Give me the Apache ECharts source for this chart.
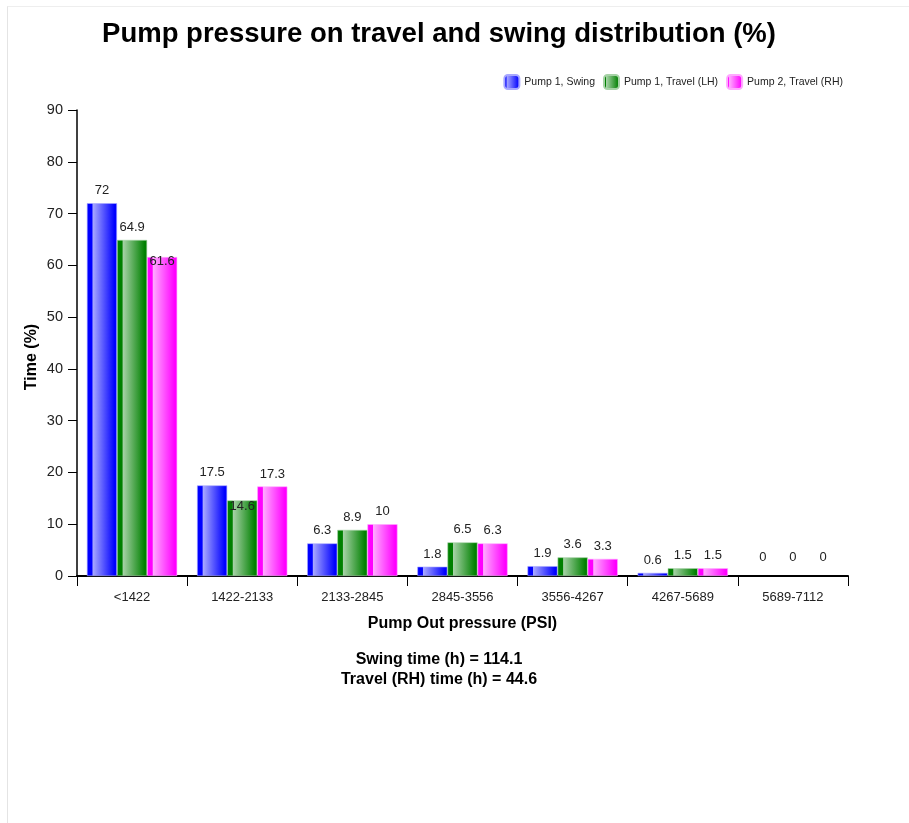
<!DOCTYPE html>
<html>
<head>
<meta charset="utf-8">
<script src="https://cdn.jsdelivr.net/npm/echarts@6/dist/echarts.min.js"></script>
<style>
html,body{margin:0;padding:0;background:#fff;}
#frame{position:absolute;left:7px;top:6px;width:920px;height:840px;border-left:1px solid #e4e4e4;border-top:1px solid #eeeeee;}
#chart{position:absolute;left:0;top:0;width:909px;height:823px;}
</style>
</head>
<body>
<div id="frame"></div>
<div id="chart"></div>
<script>
const categories = ['<1422','1422-2133','2133-2845','2845-3556','3556-4267','4267-5689','5689-7112'];
const seriesNames = ['Pump 1, Swing','Pump 1, Travel (LH)','Pump 2, Travel (RH)'];
const swing   = [72, 17.5, 6.3, 1.8, 1.9, 0.6, 0];
const travelLH = [64.9, 14.6, 8.9, 6.5, 3.6, 1.5, 0];
const travelRH = [61.6, 17.3, 10, 6.3, 3.3, 1.5, 0];
const yTicks = [0,10,20,30,40,50,60,70,80,90];
const swingTime = 114.1;
const travelRHTime = 44.6;
const yAxisTitle = 'Time (%)';

const baseColors = ['#0000ff','#008000','#ff00ff'];
const lightColors = ['#a8a8ff','#a6d2a6','#ffaaff'];
function grad(i){
  return new echarts.graphic.LinearGradient(0,0,1,0,[
    {offset:0,color:baseColors[i]},
    {offset:0.17,color:baseColors[i]},
    {offset:0.2,color:lightColors[i]},
    {offset:0.92,color:baseColors[i]},
    {offset:1,color:baseColors[i]}
  ]);
}
// label nudges for overlapping labels (series index -> category index -> y offset)
const labelNudge = {1:{1:19}, 2:{0:17}};
const allData = [swing, travelLH, travelRH];
const series = allData.map((arr,si)=>({
  name: seriesNames[si],
  type:'bar',
  barGap:'0%',
  barCategoryGap:'18%',
  itemStyle:{color:grad(si), borderColor:lightColors[si], borderWidth:0.6},
  label:{show:true, position:'top', distance:6, color:'#222', fontSize:13, fontFamily:'Liberation Sans, Arial'},
  data: arr.map((v,ci)=>{
    const n = labelNudge[si] && labelNudge[si][ci];
    const item = {value:v};
    if (n) item.label = {offset:[0,n]};
    if (v === 0) { item.itemStyle = {borderWidth:0, color:'rgba(0,0,0,0)'}; item.label = {distance:12}; }
    return item;
  })
}));

const chart = echarts.init(document.getElementById('chart'));
chart.setOption({
  animation:false,
  textStyle:{fontFamily:'Liberation Sans, Arial'},
  title:[
    {text:'Pump pressure on travel and swing distribution (%)', left:434, top:15, textAlign:'center',
     textStyle:{fontSize:27.5, fontWeight:'bold', color:'#000', fontFamily:'Liberation Sans, Arial'}},
    {text:'Swing time (h) = ' + swingTime + '\nTravel (RH) time (h) = ' + travelRHTime, left:434, top:645, textAlign:'center',
     textStyle:{fontSize:16, fontWeight:'bold', color:'#000', lineHeight:20, fontFamily:'Liberation Sans, Arial'}}
  ],
  graphic:[{
    type:'text', x:32, y:357, rotation:Math.PI/2,
    style:{text:yAxisTitle, font:'bold 16px "Liberation Sans", Arial', fill:'#000', align:'center', verticalAlign:'middle'}
  }],
  legend:{
    right:61, top:69, itemWidth:15, itemHeight:14, itemGap:8, icon:'roundRect',
    textStyle:{fontSize:10.5, color:'#222'},
    data:seriesNames
  },
  grid:{left:77, right:61, top:110, bottom:247, containLabel:false},
  xAxis:{
    type:'category', data:categories,
    axisLine:{lineStyle:{color:'#000', width:2}},
    axisTick:{show:true, length:10, alignWithLabel:false, lineStyle:{color:'#000', width:1}},
    axisLabel:{color:'#222', fontSize:13, margin:15},
    name:'Pump Out pressure (PSI)', nameLocation:'middle', nameGap:40,
    nameTextStyle:{fontSize:16, fontWeight:'bold', color:'#000'}
  },
  yAxis:{
    type:'value', min:yTicks[0], max:yTicks[yTicks.length-1], interval:yTicks[1]-yTicks[0],
    axisLine:{show:true, lineStyle:{color:'#000', width:1.5}},
    axisTick:{show:true, length:9, lineStyle:{color:'#000'}},
    axisLabel:{color:'#222', fontSize:14.5, margin:14},
    splitLine:{show:false}
  },
  series: series
});
</script>
</body>
</html>
